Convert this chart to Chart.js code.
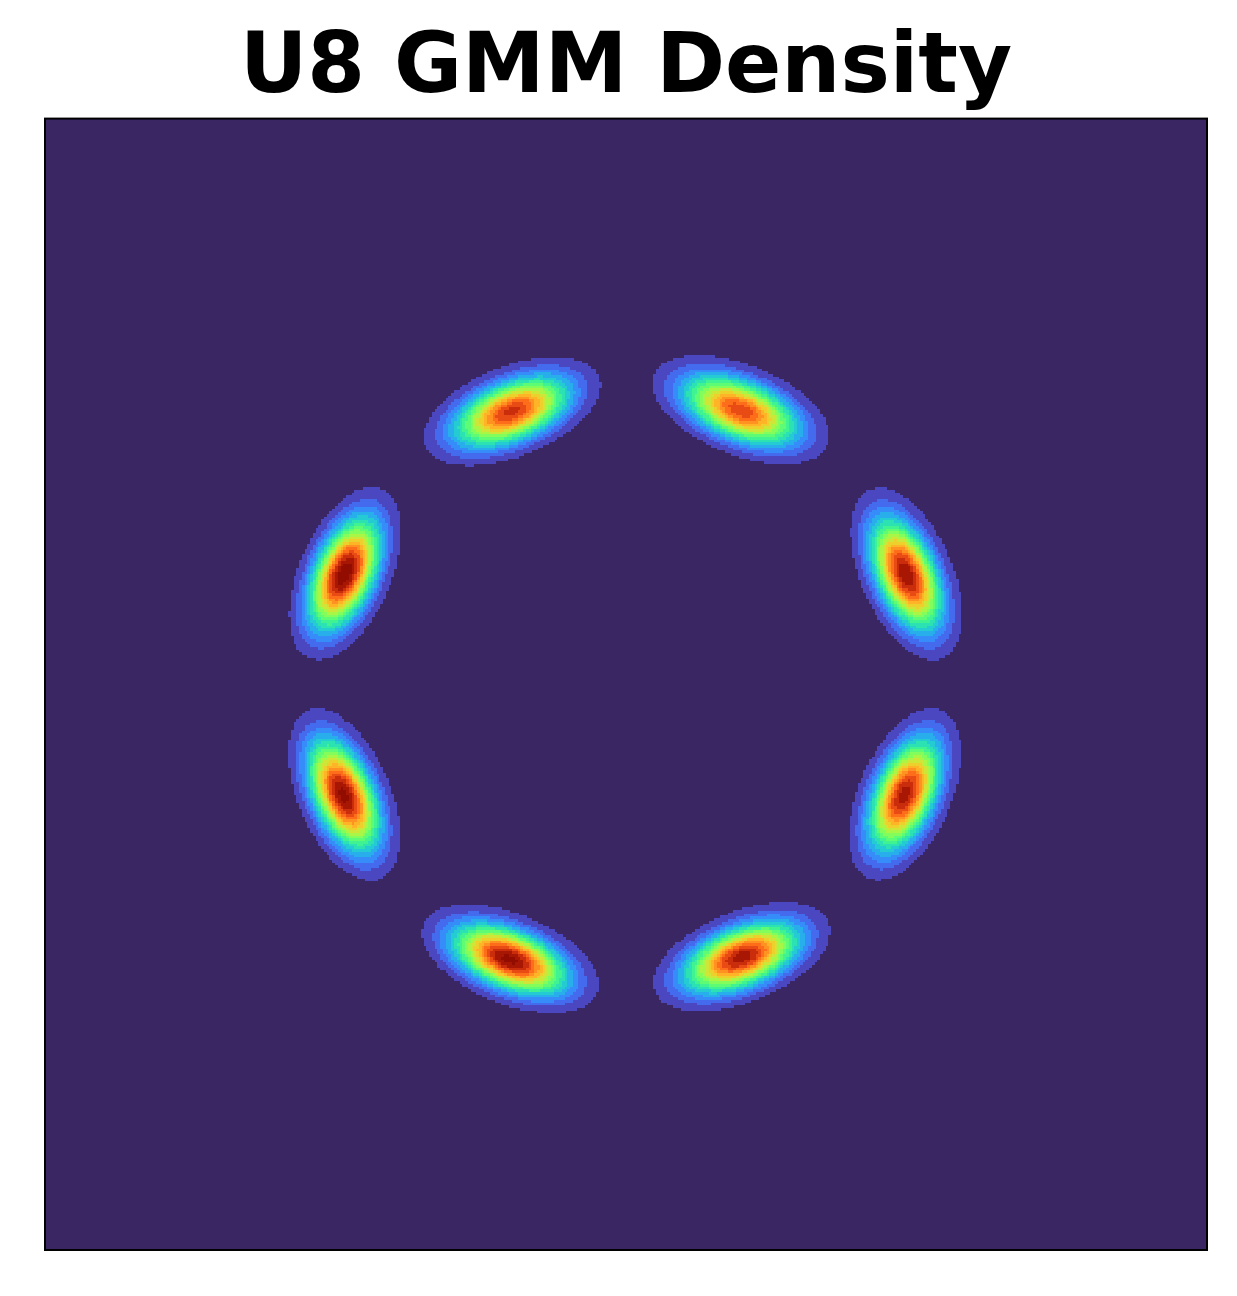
<!DOCTYPE html>
<html><head><meta charset="utf-8">
<script src="https://cdn.jsdelivr.net/npm/chart.js@4.4.1/dist/chart.umd.min.js"></script>
<style>html,body{margin:0;padding:0;background:#fff;} canvas{display:block;}</style>
</head><body>
<canvas id="c" width="1237" height="1296"></canvas>
<script>
// GMM components (data units, axis range -4..4)
const centersX = [-0.785, 0.792, -1.935, 1.931, -1.941, 1.921, -0.799, 0.799];
const centersY = [1.931, 1.941, 0.785, 0.781, -0.781, -0.778, -1.941, -1.927];
const majorAngleDeg = [22.5, -22.5, 67.5, 112.5, 112.5, 67.5, -22.5, 22.5];
const sigmaMajor = [0.268, 0.270, 0.262, 0.264, 0.263, 0.265, 0.263, 0.265];
const sigmaMinor = [0.131, 0.132, 0.128, 0.129, 0.129, 0.130, 0.129, 0.130];
const peakHeights = [0.87, 0.84, 1.00, 0.95, 0.97, 0.93, 0.97, 0.93];
const axisMin = -4, axisMax = 4;
const levelCount = 20;
const gridCells = 420;
const chartTitle = 'U8 GMM Density';

function turbo(t) {
  t = Math.max(0, Math.min(1, t));
  const r = 0.13572138 + t*(4.61539260 + t*(-42.66032258 + t*(132.13108234 + t*(-152.94239396 + t*59.28637943))));
  const g = 0.09140261 + t*(2.19418839 + t*(4.84296658 + t*(-14.18503333 + t*(4.27729857 + t*2.82956604))));
  const b = 0.10667330 + t*(12.64194608 + t*(-60.58204836 + t*(110.36276771 + t*(-89.90310912 + t*27.34824973))));
  const c = v => Math.round(255*Math.max(0, Math.min(1, v)));
  return `rgb(${c(r)},${c(g)},${c(b)})`;
}
function density(px, py) {
  let p = 0;
  for (let k = 0; k < centersX.length; k++) {
    const a = majorAngleDeg[k]*Math.PI/180;
    const dx = px - centersX[k], dy = py - centersY[k];
    const u = dx*Math.cos(a) + dy*Math.sin(a);
    const v = -dx*Math.sin(a) + dy*Math.cos(a);
    const sa = sigmaMajor[k], sb = sigmaMinor[k];
    p += peakHeights[k]*Math.exp(-0.5*(u*u/(sa*sa) + v*v/(sb*sb)));
  }
  return p;
}

const bandColors = [];
for (let i = 0; i < levelCount; i++) bandColors.push(turbo((i + 0.5)/levelCount));

const densityPlugin = {
  id: 'densityField',
  beforeDatasetsDraw(chart) {
    const {ctx, chartArea, scales} = chart;
    const xs = scales.x, ys = scales.y;
    const step = (axisMax - axisMin)/gridCells;
    const vals = new Float64Array(gridCells*gridCells);
    let vmax = 0;
    for (let j = 0; j < gridCells; j++) {
      for (let i = 0; i < gridCells; i++) {
        const v = density(axisMin + (i+0.5)*step, axisMin + (j+0.5)*step);
        vals[j*gridCells+i] = v;
        if (v > vmax) vmax = v;
      }
    }
    ctx.save();
    ctx.beginPath();
    ctx.rect(chartArea.left, chartArea.top, chartArea.width, chartArea.height);
    ctx.clip();
    ctx.fillStyle = bandColors[0];
    ctx.fillRect(chartArea.left, chartArea.top, chartArea.width, chartArea.height);
    for (let j = 0; j < gridCells; j++) {
      const y0 = ys.getPixelForValue(axisMin + j*step);
      const y1 = ys.getPixelForValue(axisMin + (j+1)*step);
      for (let i = 0; i < gridCells; i++) {
        const band = Math.min(levelCount-1, Math.floor(vals[j*gridCells+i]/vmax*levelCount));
        if (band <= 0) continue;
        const x0 = xs.getPixelForValue(axisMin + i*step);
        const x1 = xs.getPixelForValue(axisMin + (i+1)*step);
        ctx.fillStyle = bandColors[band];
        ctx.fillRect(Math.floor(x0), Math.floor(y1), Math.ceil(x1)-Math.floor(x0), Math.ceil(y0)-Math.floor(y1));
      }
    }
    ctx.restore();
  },
  afterDraw(chart) {
    const {ctx, chartArea} = chart;
    ctx.save();
    ctx.strokeStyle = '#000';
    ctx.lineWidth = 2;
    ctx.strokeRect(chartArea.left, chartArea.top, chartArea.width, chartArea.height);
    ctx.restore();
  }
};

new Chart(document.getElementById('c'), {
  type: 'scatter',
  data: { datasets: [{ data: [], pointRadius: 0 }] },
  options: {
    responsive: false,
    devicePixelRatio: 1,
    animation: false,
    layout: { padding: { left: 45, right: 30, top: 0, bottom: 46 } },
    plugins: {
      legend: { display: false },
      tooltip: { enabled: false },
      title: {
        display: true,
        text: chartTitle,
        color: '#000',
        font: { family: 'DejaVu Sans', size: 83, weight: 'bold' },
        padding: { top: 21, bottom: -2 }
      }
    },
    scales: {
      x: { type: 'linear', min: axisMin, max: axisMax, display: false },
      y: { type: 'linear', min: axisMin, max: axisMax, display: false }
    }
  },
  plugins: [densityPlugin]
});
</script>
</body></html>
